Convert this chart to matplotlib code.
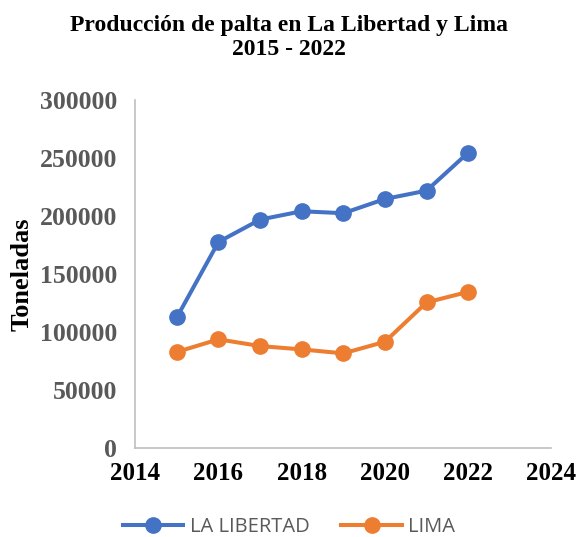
import matplotlib
matplotlib.use("Agg")
import matplotlib.pyplot as plt

years = [2015, 2016, 2017, 2018, 2019, 2020, 2021, 2022]
la_libertad = [112700, 177800, 197100, 204300, 202600, 214900, 222100, 254900]
lima = [82800, 93700, 87900, 85000, 81600, 91600, 125600, 134700]
x_ticks = [2014, 2016, 2018, 2020, 2022, 2024]
y_ticks = [0, 50000, 100000, 150000, 200000, 250000, 300000]

fig = plt.figure(figsize=(5.78, 5.37), dpi=100)
ax = fig.add_axes([0.234, 0.166, 0.72, 0.647])

blue = "#4472C4"
orange = "#ED7D31"
ax.plot(years, la_libertad, color=blue, lw=2.9, marker="o", ms=11, label="LA LIBERTAD")
ax.plot(years, lima, color=orange, lw=2.9, marker="o", ms=11, label="LIMA")

ax.set_xlim(2014, 2024)
ax.set_ylim(0, 300000)
ax.set_xticks(x_ticks)
ax.set_yticks(y_ticks)
ax.set_xticklabels([str(v) for v in x_ticks], fontfamily="Liberation Serif",
                   fontweight="bold", fontsize=18, color="black")
ax.set_yticklabels([str(v) for v in y_ticks], fontfamily="Liberation Serif",
                   fontweight="bold", fontsize=18.5, color="#595959")
ax.tick_params(axis="y", length=0, pad=13)
ax.tick_params(axis="x", length=0, pad=10)
for s in ["top", "right"]:
    ax.spines[s].set_visible(False)
for s in ["left", "bottom"]:
    ax.spines[s].set_color("#BFBFBF")
    ax.spines[s].set_linewidth(1.2)

ax.set_ylabel("Toneladas", fontfamily="Liberation Serif", fontweight="bold",
              fontsize=19, color="black")
ax.yaxis.set_label_coords(-0.245, 0.5)

fig.text(0.5, 0.93, "Producción de palta en La Libertad y Lima\n2015 - 2022",
         ha="center", va="center", fontfamily="Liberation Serif",
         fontweight="bold", fontsize=17, linespacing=1.2)

leg = fig.legend(loc="center", bbox_to_anchor=(0.5, 0.018), ncol=2, frameon=False,
                 prop={"family": "Open Sans", "size": 14.5}, handlelength=3.0,
                 columnspacing=1.6, handletextpad=0.3)
for t in leg.get_texts():
    t.set_color("#595959")

fig.savefig("out.png", dpi=100)
